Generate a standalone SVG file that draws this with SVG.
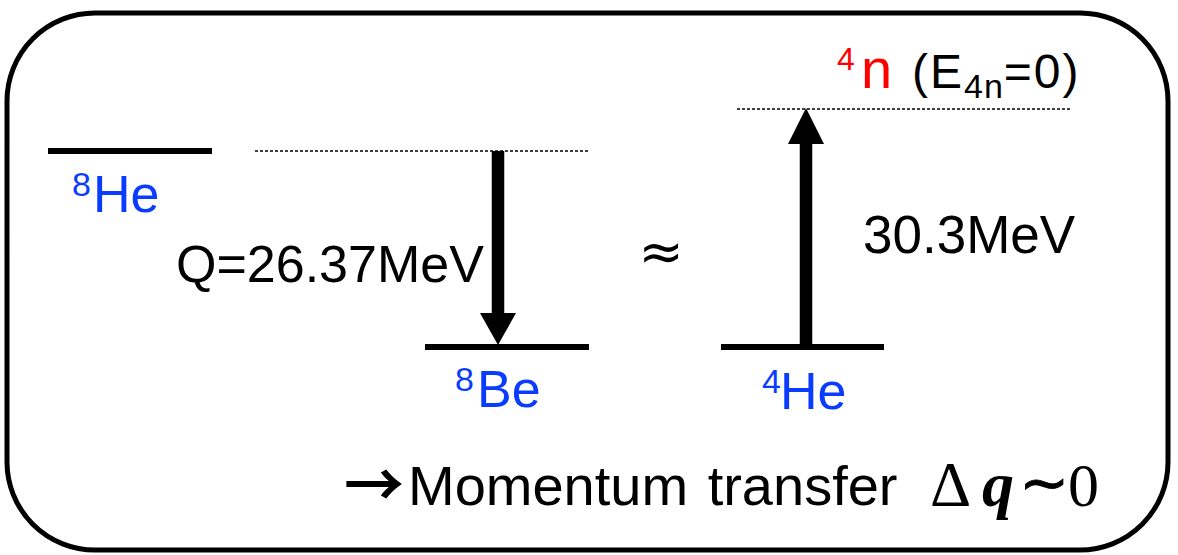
<svg xmlns="http://www.w3.org/2000/svg" width="1178" height="555" viewBox="0 0 1178 555">
<style>
.lvl{stroke:#000;stroke-width:6;fill:none}
.dash{stroke:#000;stroke-width:1.3;stroke-dasharray:3 2;fill:none}
.shaft{stroke:#000;stroke-width:12.5;fill:none}
.t{font-family:"Liberation Sans",Arial,sans-serif;fill:#000}
.blue{fill:#0a3cff}
.red{fill:#ff0000}
.m{font-family:"Liberation Serif","DejaVu Serif",serif;fill:#000}
</style>
<rect x="7" y="13" width="1161" height="537" rx="88" ry="88" fill="#fff" stroke="#000" stroke-width="5"/>
<g id="he8">
<line class="lvl" x1="48" y1="151" x2="212" y2="151"/>
<text class="t blue"><tspan x="72" y="196" font-size="34">8</tspan><tspan x="93" y="212" font-size="52">He</tspan></text>
</g>
<g id="be8">
<line class="lvl" x1="425" y1="347" x2="589" y2="347"/>
<text class="t blue"><tspan x="455" y="391" font-size="34">8</tspan><tspan x="477" y="407" font-size="52">Be</tspan></text>
</g>
<g id="he4">
<line class="lvl" x1="721" y1="347" x2="884" y2="347"/>
<text class="t blue"><tspan x="762" y="393" font-size="34">4</tspan><tspan x="780" y="409" font-size="52">He</tspan></text>
</g>
<g id="n4">
<text class="t"><tspan class="red" x="837" y="70" font-size="32">4</tspan><tspan class="red" x="861" y="88" font-size="56">n</tspan><tspan x="912" y="88" font-size="48" letter-spacing="2">(E</tspan><tspan y="98" font-size="34" letter-spacing="1">4n</tspan><tspan y="88" font-size="48" letter-spacing="2">=0)</tspan></text>
</g>
<g id="connectors">
<line class="dash" x1="255" y1="151" x2="590" y2="151"/>
<line class="dash" x1="737" y1="109" x2="1072" y2="109"/>
<line class="shaft" x1="498" y1="151" x2="498" y2="316"/>
<polygon points="480,313 516,313 498,345" fill="#000"/>
<line class="shaft" x1="806" y1="347" x2="806" y2="141"/>
<polygon points="788,144 824,144 806,108" fill="#000"/>
</g>
<text class="t" x="176" y="282" font-size="52">Q=26.37MeV</text>
<text class="t" x="863" y="253" font-size="53">30.3MeV</text>
<text x="661" y="270" font-size="54" text-anchor="middle" font-family="DejaVu Sans,sans-serif" fill="#000">≈</text>
<text x="344" y="507" font-size="60" font-weight="bold" font-family="Noto Sans CJK JP,sans-serif" fill="#000">→</text>
<text class="t" x="408" y="505" font-size="56" word-spacing="4">Momentum transfer</text>
<text class="m" y="506" font-size="64"><tspan x="930">Δ</tspan><tspan x="982" font-style="italic" font-weight="bold">q</tspan></text>
<text x="1019" y="503" font-size="60" font-family="DejaVu Sans,sans-serif" fill="#000" stroke="#000" stroke-width="0.8">∼</text>
<text class="m" x="1068" y="506" font-size="62">0</text>
</svg>
